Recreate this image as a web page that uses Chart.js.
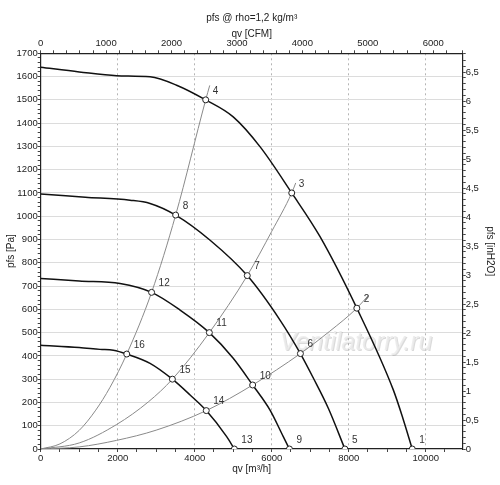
<!DOCTYPE html>
<html>
<head>
<meta charset="utf-8">
<script src="https://cdn.jsdelivr.net/npm/chart.js@4"></script>
<style>
html,body{margin:0;padding:0;background:#fff;}
#wrap{width:500px;height:485px;position:relative;}
</style>
</head>
<body>
<div id="wrap"><canvas id="c"></canvas></div>
<script>
// ---- data (qv in m3/h, pfs in Pa) ----
const fanCurve1 = [[0,1640],[1000,1620],[1974,1604],[2840,1599],[3530,1563],[4285,1500],[5000,1427],[5700,1298],[6520,1100],[7255,912],[8210,605],[9160,253],[9420,125],[9650,0]];
const fanCurve2 = [[0,1095],[1160,1082],[2320,1069],[2840,1055],[3505,1005],[4400,897],[5365,745],[6215,554],[6745,410],[7080,305],[7470,175],[7900,0]];
const fanCurve3 = [[0,733],[1000,722],[2060,711],[2880,673],[3620,597],[4380,500],[5000,390],[5505,275],[5956,167],[6300,53],[6460,0]];
const fanCurve4 = [[0,446],[1000,436],[1540,428],[1886,424],[2235,408],[2840,368],[3420,300],[3880,232],[4300,165],[4830,53],[5030,0]];
const systemCurveA = [[0,0],[500,22],[1000,80],[1430,167],[1800,265],[2235,408],[2880,673],[3505,1005],[4285,1500],[4390,1562]];
const systemCurveB = [[0,0],[1000,26],[1970,105],[2800,203],[3420,300],[4380,500],[5365,745],[6000,935],[6520,1100],[6623,1143]];
const systemCurveC = [[0,0],[1000,9],[1970,37],[3000,81],[4300,165],[5505,275],[6745,410],[7500,505],[8210,605],[8510,660]];
const pointIds = ['1','2','3','4','5','6','7','8','9','10','11','12','13','14','15','16'];
const pointQ = [9650,8210,6520,4285,7900,6745,5365,3505,6460,5505,4380,2880,5030,4300,3420,2235];
const pointP = [0,605,1100,1500,0,410,745,1005,0,275,500,673,0,165,300,408];
const qvTicksM3h = [0,2000,4000,6000,8000,10000];
const qvMaxM3h = 10960;
const pfsMaxPa = 1700;
const M3H_PER_CFM = 1.69901;
const PA_PER_INH2O = 249.089;
const watermarkText = 'Ventilatorry.ru';
const watermarkAt = [8190, 455];

const FONT = "'Liberation Sans', Arial, sans-serif";
const toXY = arr => arr.map(p => ({x:p[0], y:p[1]}));
const qvMinorTicks = [];
for (let v = 0; v <= qvMaxM3h; v += 500) qvMinorTicks.push(v);

const fanStyle = {borderColor:'#111', borderWidth:1.5, pointRadius:0, fill:false, cubicInterpolationMode:'monotone', order:2};
const sysStyle = {borderColor:'#8a8a8a', borderWidth:1, pointRadius:0, fill:false, cubicInterpolationMode:'monotone', order:3};

const labelsPlugin = {
  id:'pointLabels',
  afterDatasetsDraw(chart){
    const {ctx, scales} = chart;
    ctx.save();
    ctx.font = '10px ' + FONT;
    ctx.fillStyle = '#333';
    ctx.textAlign = 'left';
    ctx.textBaseline = 'middle';
    for (let i=0;i<pointIds.length;i++){
      const px = scales.x.getPixelForValue(pointQ[i]);
      const py = scales.y.getPixelForValue(pointP[i]);
      ctx.fillText(pointIds[i], px+7, py-9);
    }
    ctx.restore();
  }
};
const watermarkPlugin = {
  id:'watermark',
  beforeDatasetsDraw(chart){
    const {ctx, scales} = chart;
    const px = scales.x.getPixelForValue(watermarkAt[0]);
    const py = scales.y.getPixelForValue(watermarkAt[1]);
    ctx.save();
    ctx.font = 'italic 25px ' + FONT;
    ctx.textAlign = 'center';
    ctx.textBaseline = 'middle';
    ctx.fillStyle = 'rgba(150,150,150,0.35)';
    ctx.fillText(watermarkText, px+1, py+1);
    ctx.fillStyle = 'rgba(235,235,235,0.85)';
    ctx.fillText(watermarkText, px, py);
    ctx.restore();
  }
};

const tickFont = {family:FONT, size:9.5};
const titleFont = {family:FONT, size:10};
const tickColor = '#222';

new Chart(document.getElementById('c'), {
  type:'line',
  data:{
    datasets:[
      {label:'points', type:'scatter', data:pointQ.map((q,i)=>({x:q,y:pointP[i]})), showLine:false,
       pointRadius:3, pointBackgroundColor:'#fff', pointBorderColor:'#222', pointBorderWidth:1, clip:0, order:0},
      Object.assign({label:'fan1', data:toXY(fanCurve1)}, fanStyle),
      Object.assign({label:'fan2', data:toXY(fanCurve2)}, fanStyle),
      Object.assign({label:'fan3', data:toXY(fanCurve3)}, fanStyle),
      Object.assign({label:'fan4', data:toXY(fanCurve4)}, fanStyle),
      Object.assign({label:'sysA', data:toXY(systemCurveA)}, sysStyle),
      Object.assign({label:'sysB', data:toXY(systemCurveB)}, sysStyle),
      Object.assign({label:'sysC', data:toXY(systemCurveC)}, sysStyle)
    ]
  },
  options:{
    responsive:true, maintainAspectRatio:false, animation:false,
    layout:{padding:0},
    plugins:{legend:{display:false}, tooltip:{enabled:false}, title:{display:false}},
    scales:{
      x:{type:'linear', position:'bottom', min:0, max:qvMaxM3h,
        afterFit(s){ s.height = 36; },
        afterBuildTicks(s){ s.ticks = qvMinorTicks.map(v => ({value:v})); },
        ticks:{autoSkip:false, maxRotation:0, padding:1, color:tickColor, font:tickFont,
          callback:v => qvTicksM3h.includes(v) ? String(v) : ''},
        grid:{drawOnChartArea:true, tickLength:3,
          color:c => (c.tick && qvTicksM3h.includes(c.tick.value) && c.tick.value>0) ? '#b4b4b4' : 'rgba(0,0,0,0)',
          tickColor:'#444'},
        border:{color:'#222', width:1.2, dash:[2,3]},
        title:{display:true, text:'qv [m³/h]', color:'#222', font:titleFont, padding:{top:0,bottom:10}}
      },
      xTop:{type:'linear', position:'top', min:0, max:qvMaxM3h/M3H_PER_CFM,
        afterFit(s){ s.height = 53.3; },
        ticks:{stepSize:200, autoSkip:false, maxRotation:0, padding:1, color:tickColor, font:tickFont,
          callback:v => (v % 1000 === 0) ? String(v) : ''},
        grid:{drawOnChartArea:false, tickLength:3, tickColor:'#444'},
        border:{color:'#222', width:1.2},
        title:{display:true, text:['pfs @ rho=1,2 kg/m³','qv [CFM]'], color:'#222', font:Object.assign({lineHeight:1.6}, titleFont), padding:{top:10,bottom:0}}
      },
      y:{type:'linear', position:'left', min:0, max:pfsMaxPa,
        afterFit(s){ s.width = 40.7; },
        ticks:{stepSize:20, autoSkip:false, padding:0, color:tickColor, font:tickFont,
          callback:v => (v % 100 === 0) ? String(v) : ''},
        grid:{drawOnChartArea:true, tickLength:3,
          color:c => (c.tick && c.tick.value % 100 === 0 && c.tick.value>0 && c.tick.value<pfsMaxPa) ? '#dcdcdc' : 'rgba(0,0,0,0)',
          tickColor:'#444'},
        border:{color:'#222', width:1.2},
        title:{display:true, text:'pfs [Pa]', color:'#222', font:titleFont, padding:{top:5.5,bottom:0}}
      },
      yRight:{type:'linear', position:'right', min:0, max:pfsMaxPa/PA_PER_INH2O,
        afterFit(s){ s.width = 37.3; },
        ticks:{stepSize:0.1, autoSkip:false, padding:0, color:tickColor, font:tickFont,
          callback:v => { const r = Math.round(v*10); return (r % 5 === 0 && Math.abs(v*10 - r) < 1e-6) ? String(r/10).replace('.', ',') : ''; }},
        grid:{drawOnChartArea:false, tickLength:3, tickColor:'#444'},
        border:{color:'#222', width:1.2},
        title:{display:true, text:'pfs [inH2O]', color:'#222', font:titleFont, padding:{top:4,bottom:0}}
      }
    }
  },
  plugins:[watermarkPlugin, labelsPlugin]
});
</script>
</body>
</html>
